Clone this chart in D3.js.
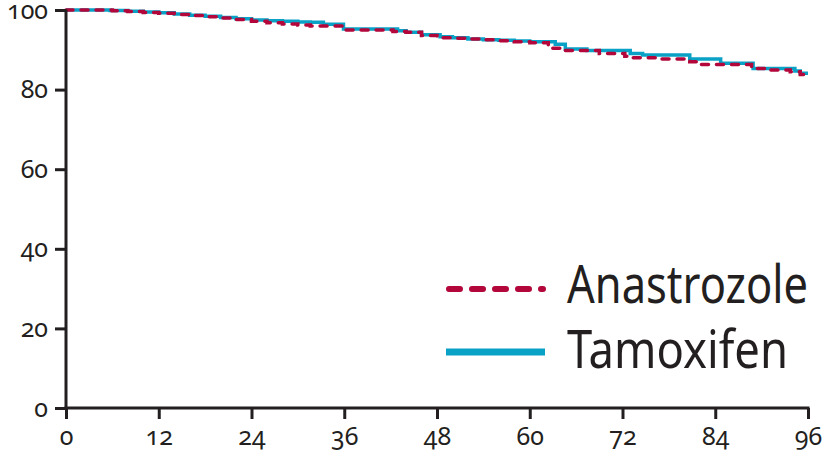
<!DOCTYPE html>
<html>
<head>
<meta charset="utf-8">
<script src="https://cdn.jsdelivr.net/npm/d3@7"></script>
<style>
  html, body { margin: 0; padding: 0; background: #fff; }
  svg { display: block; }
  .tick text { font-family: "Noto Sans", sans-serif; font-variant-numeric: oldstyle-nums; font-feature-settings: "onum" 1; fill: #231f20; }
</style>
</head>
<body>
<svg id="chart" width="829" height="452"></svg>
<script>
// ---- data ----
const xTicks = [0, 12, 24, 36, 48, 60, 72, 84, 96];
const yTicks = [0, 20, 40, 60, 80, 100];

const tamoxifenMonths = [0, 5.7, 8, 10, 12, 14, 16, 18, 20, 22, 24, 26, 28, 30, 31.6, 33.3, 35.9, 42.9, 44, 46, 48.4, 50, 52, 54, 56, 58, 60, 63.3, 64.6, 67.4, 73, 74.6, 80.7, 84.7, 88.9, 94.3, 95, 96];
const tamoxifenSurv   = [100, 99.9, 99.7, 99.5, 99.3, 99.0, 98.7, 98.4, 98.1, 97.8, 97.5, 97.3, 97.2, 97.0, 96.9, 96.4, 95.2, 94.8, 94.4, 93.8, 93.3, 93.0, 92.7, 92.5, 92.4, 92.2, 92.0, 91.4, 90.2, 89.8, 89.1, 88.7, 87.7, 86.6, 85.3, 84.7, 84.1, 84.1];

const anastrozoleMonths = [0, 6, 8, 10, 12, 14, 16, 18, 20, 22, 24, 26, 28, 30, 31.6, 35.9, 42.3, 44, 46, 48, 50, 52, 54, 56, 58, 60, 62.4, 64, 69, 72.3, 72.7, 76.8, 80.7, 82, 88.7, 90.4, 93.7, 95, 96];
const anastrozoleSurv   = [100, 99.8, 99.6, 99.4, 99.2, 98.9, 98.6, 98.3, 98.0, 97.6, 97.2, 96.8, 96.5, 96.2, 96.0, 95.0, 94.6, 94.4, 93.6, 93.0, 92.9, 92.7, 92.5, 92.3, 92.0, 91.8, 90.4, 89.8, 89.1, 88.4, 88.0, 87.7, 87.0, 86.3, 85.3, 84.9, 84.5, 83.8, 83.8];

const seriesNames = ["Anastrozole", "Tamoxifen"];
const seriesColors = ["#b3073b", "#0aa1c6"];

// ---- layout ----
const svg = d3.select("#chart");
const x = d3.scaleLinear().domain([0, 96]).range([66, 808]);
const y = d3.scaleLinear().domain([0, 100]).range([408, 10]);
const ink = "#231f20";

const line = d3.line().x(d => x(d[0])).y(d => y(d[1])).curve(d3.curveStepAfter);
const tam = tamoxifenMonths.map((m, i) => [m, tamoxifenSurv[i]]);
const ana = anastrozoleMonths.map((m, i) => [m, anastrozoleSurv[i]]);

// curves
svg.append("path").datum(tam).attr("d", line)
  .attr("fill", "none").attr("stroke", seriesColors[1]).attr("stroke-width", 3.5);
svg.append("path").datum(ana).attr("d", line)
  .attr("fill", "none").attr("stroke", seriesColors[0]).attr("stroke-width", 3.5)
  .attr("stroke-dasharray", "7,8").attr("stroke-linecap", "round");

// axes
const xAxis = svg.append("g").attr("transform", "translate(0,408)")
  .call(d3.axisBottom(x).tickValues(xTicks).tickSize(11).tickSizeOuter(0).tickPadding(8));
const yAxis = svg.append("g").attr("transform", "translate(66,0)")
  .call(d3.axisLeft(y).tickValues(yTicks).tickSize(11).tickSizeOuter(0).tickPadding(7));
[xAxis, yAxis].forEach(g => {
  g.select(".domain").attr("stroke", ink).attr("stroke-width", 3);
  g.selectAll(".tick line").attr("stroke", ink).attr("stroke-width", 3);
  g.selectAll(".tick text").attr("font-size", 25).style("font-family", "'Noto Sans', sans-serif");
});
xAxis.select(".domain").attr("d", "M64.5,0H809.5");
yAxis.select(".domain").attr("d", "M0,9.5V409.5");

// legend
const legY = [289, 352];
const legText = [303, 368];
const legW = [241, 221];
svg.append("line").attr("x1", 449).attr("x2", 543).attr("y1", legY[0]).attr("y2", legY[0])
  .attr("stroke", seriesColors[0]).attr("stroke-width", 6).attr("stroke-linecap", "round")
  .attr("stroke-dasharray", "11,12");
svg.append("line").attr("x1", 446).attr("x2", 545).attr("y1", legY[1]).attr("y2", legY[1])
  .attr("stroke", seriesColors[1]).attr("stroke-width", 7);
seriesNames.forEach((n, i) => {
  svg.append("text").attr("x", 567).attr("y", legText[i]).text(n)
    .attr("font-family", "'Noto Sans', sans-serif").attr("font-size", 52).attr("fill", ink)
    .attr("textLength", legW[i]).attr("lengthAdjust", "spacingAndGlyphs");
});
</script>
</body>
</html>
